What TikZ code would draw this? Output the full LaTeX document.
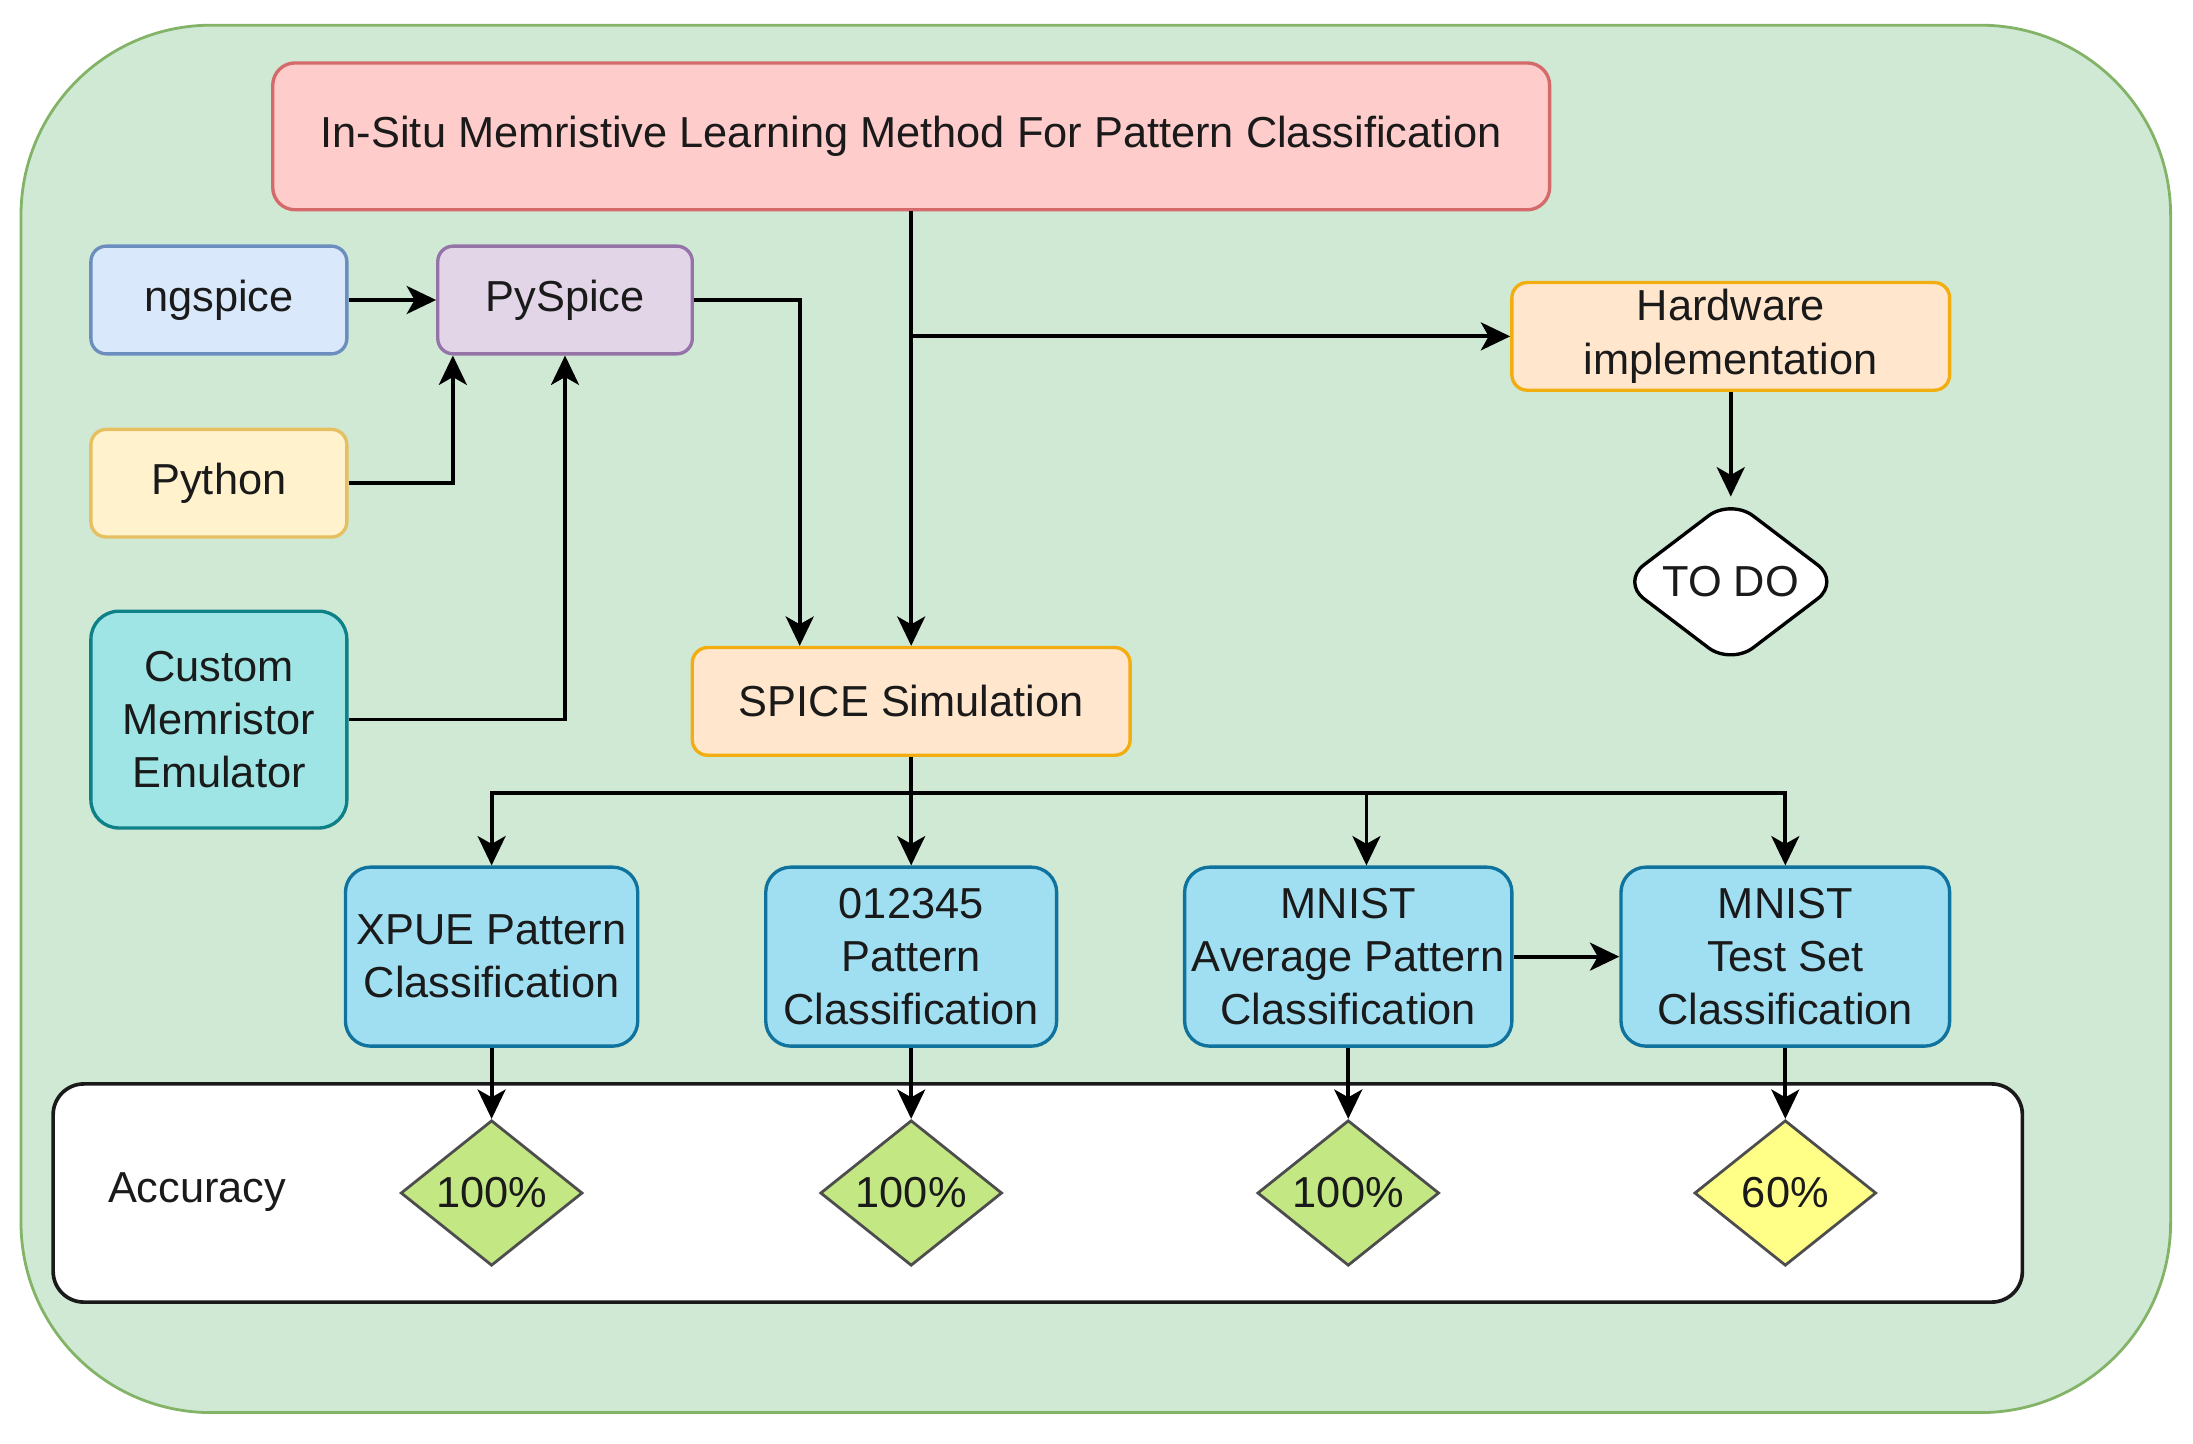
\documentclass[tikz,border=0pt]{standalone}
\usepackage{fontspec}
\setmainfont{Liberation Sans}
\usetikzlibrary{shapes.geometric,arrows.meta,calc}
\definecolor{outerfill}{HTML}{D0E9D5}
\definecolor{outerdraw}{HTML}{82B366}
\definecolor{titlefill}{HTML}{FFCCCC}
\definecolor{titledraw}{HTML}{D46A6A}
\definecolor{ngfill}{HTML}{DAE8FC}
\definecolor{ngdraw}{HTML}{6C8EBF}
\definecolor{pyspfill}{HTML}{E1D5E7}
\definecolor{pyspdraw}{HTML}{9673A6}
\definecolor{pyfill}{HTML}{FFF2CC}
\definecolor{pydraw}{HTML}{E6C060}
\definecolor{cusfill}{HTML}{A0E5E5}
\definecolor{cusdraw}{HTML}{0E8088}
\definecolor{orfill}{HTML}{FFE6CC}
\definecolor{ordraw}{HTML}{F2AE10}
\definecolor{clsfill}{HTML}{A0DFF2}
\definecolor{clsdraw}{HTML}{10739E}
\definecolor{grfill}{HTML}{C3E883}
\definecolor{yefill}{HTML}{FFFF88}
\definecolor{dmdraw}{HTML}{4D4D4D}
\definecolor{txt}{HTML}{1A1A1A}
\begin{document}
\begin{tikzpicture}[x=0.5pt,y=-0.5pt,
  every node/.style={font=\fontsize{15.5}{19}\selectfont, text=txt, align=center, inner sep=0pt},
  box/.style={rectangle, draw, line width=1.2pt},
  arr/.style={draw=black, line width=1.35pt, -{Stealth[length=10.5pt,width=10pt,inset=2.8pt]}},
  pct/.style={diamond, draw=dmdraw, line width=1pt, minimum width=65pt, minimum height=52pt}
]
\useasboundingbox (0,0) rectangle (1568,1032);

% background container
\node[box, fill=outerfill, draw=outerdraw, line width=1pt, rounded corners=68pt,
      minimum width=768.5pt, minimum height=496pt] (bg) at (783.5,514) {};

% accuracy panel
\node[box, fill=white, draw=txt, line width=1.3pt, rounded corners=11pt,
      minimum width=704pt, minimum height=78pt] (accbox) at (742,853) {};
\node (acc) at (141,852) {Accuracy};

% top
\node[box, fill=titlefill, draw=titledraw, rounded corners=8pt,
      minimum width=456.5pt, minimum height=52.5pt] (title) at (651.5,97.5)
      {In-Situ Memristive Learning Method For Pattern Classification};

\node[box, fill=ngfill, draw=ngdraw, rounded corners=5.5pt,
      minimum width=91.5pt, minimum height=38.5pt] (ngspice) at (156.5,214.5) {ngspice};
\node[box, fill=pyspfill, draw=pyspdraw, rounded corners=5.5pt,
      minimum width=91pt, minimum height=38.5pt] (pyspice) at (404,214.5) {PySpice};
\node[box, fill=pyfill, draw=pydraw, rounded corners=5.5pt,
      minimum width=91.5pt, minimum height=38.5pt] (python) at (156.5,345.5) {Python};
\node[box, fill=cusfill, draw=cusdraw, rounded corners=10pt,
      minimum width=91.5pt, minimum height=77.5pt] (custom) at (156.5,514.5)
      {Custom\\Memristor\\Emulator};

\node[box, fill=orfill, draw=ordraw, rounded corners=5.5pt,
      minimum width=156.5pt, minimum height=38.5pt] (spice) at (651.5,501.5) {SPICE Simulation};
\node[box, fill=orfill, draw=ordraw, rounded corners=5.5pt,
      minimum width=156.5pt, minimum height=38.5pt] (hw) at (1237.5,240.5)
      {Hardware\\implementation};

\node[diamond, draw=black, fill=white, line width=1.2pt, rounded corners=10pt,
      minimum width=78.5pt, minimum height=59pt] (todo) at (1237.5,416) {TO DO};

% classification boxes
\node[box, fill=clsfill, draw=clsdraw, rounded corners=9pt,
      minimum width=104.5pt, minimum height=64pt] (xpue) at (351.5,684)
      {XPUE Pattern\\Classification};
\node[box, fill=clsfill, draw=clsdraw, rounded corners=9pt,
      minimum width=104pt, minimum height=64pt] (c012) at (651.5,684)
      {012345\\Pattern\\Classification};
\node[box, fill=clsfill, draw=clsdraw, rounded corners=9pt,
      minimum width=117pt, minimum height=64pt] (mavg) at (964,684)
      {MNIST\\Average Pattern\\Classification};
\node[box, fill=clsfill, draw=clsdraw, rounded corners=9pt,
      minimum width=117.5pt, minimum height=64pt] (mtest) at (1276.5,684)
      {MNIST\\Test Set\\Classification};

% accuracy diamonds
\node[pct, fill=grfill] (d1) at (351.5,853) {100\%};
\node[pct, fill=grfill] (d2) at (651.5,853) {100\%};
\node[pct, fill=grfill] (d3) at (964,853) {100\%};
\node[pct, fill=yefill] (d4) at (1276.5,853) {60\%};

% connectors
\draw[arr] (ngspice.east) -- (pyspice.west);
\draw[arr] (python.east) -| ($(pyspice.south west)+(12,0)$);
\draw[arr] (custom.east) -| (pyspice.south);
\draw[arr] (pyspice.east) -| ($(spice.north west)+(78,0)$);
\draw[arr] (title.south) -- (spice.north);
\draw[arr] (title.south |- hw.west) -- (hw.west);
\draw[arr] (hw.south) -- (todo.north);

\coordinate (split) at ($(spice.south)+(0,26)$);
\draw[arr] (spice.south) -- (c012.north);
\draw[arr] (split) -| (xpue.north);
\draw[arr] (split) -| ($(mavg.north)+(13,0)$);
\draw[arr] (split) -| (mtest.north);
\draw[arr] (mavg.east) -- (mtest.west);

\draw[arr] (xpue.south) -- (d1.north);
\draw[arr] (c012.south) -- (d2.north);
\draw[arr] (mavg.south) -- (d3.north);
\draw[arr] (mtest.south) -- (d4.north);
\end{tikzpicture}
\end{document}
